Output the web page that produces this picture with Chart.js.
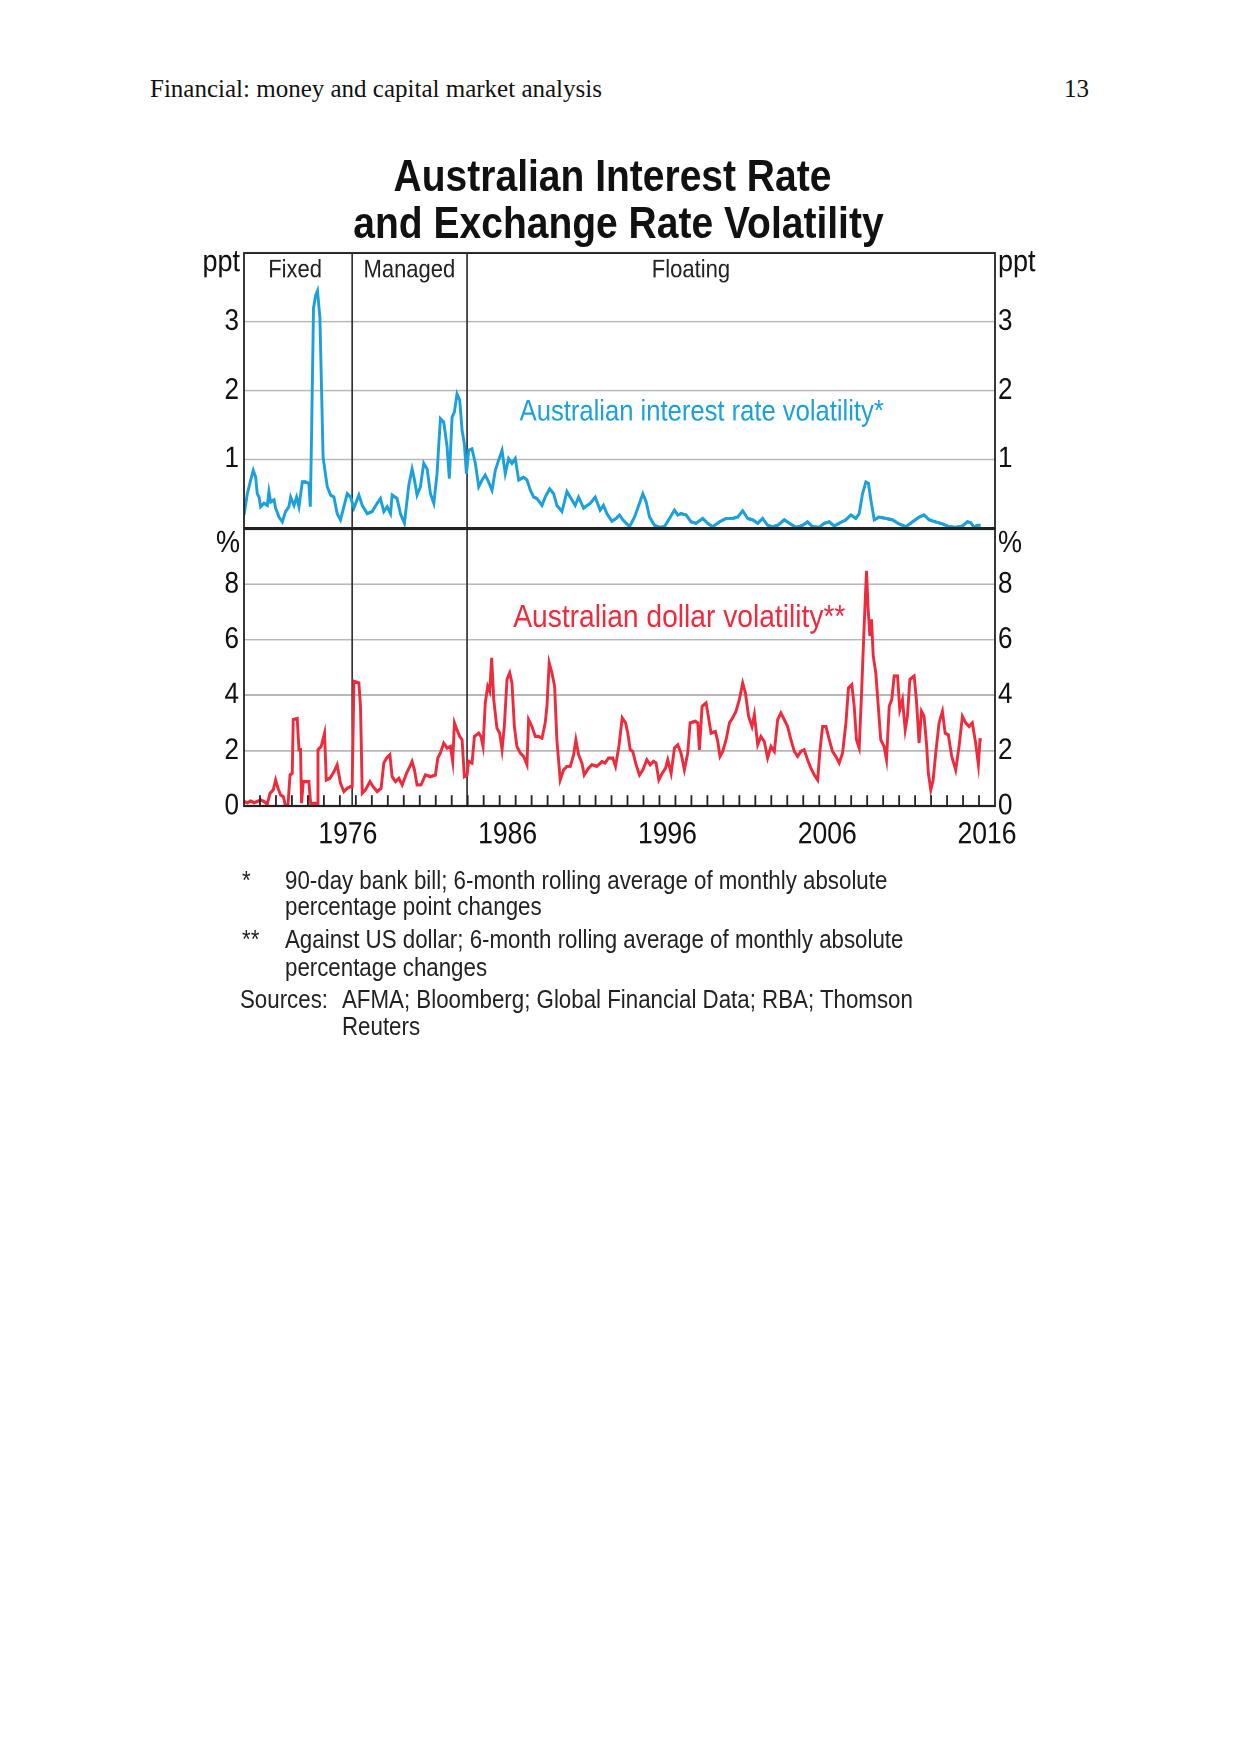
<!DOCTYPE html>
<html>
<head>
<meta charset="utf-8">
<script src="https://cdn.jsdelivr.net/npm/chart.js@4.4.1/dist/chart.umd.min.js"></script>
<style>
  body { margin: 0; background: #fff; }
  #page { position: relative; width: 1241px; height: 1754px; background: #fff; font-family: "Liberation Sans", Arial, sans-serif; }
  .hdr { position: absolute; top: 74px; font-family: "Liberation Serif", "Times New Roman", serif; font-size: 25px; line-height: 30px; color: #111; }
  #fig { position: absolute; left: 0; top: 140px; width: 1241px; height: 800px; transform: scaleY(1.14); transform-origin: 0 0; }
  .title { position: absolute; left: 0; width: 1241px; text-align: center; font-weight: bold; font-size: 39px; line-height: 44px; color: #111; }
  canvas { position: absolute; left: 150px; }
  .note { position: absolute; font-size: 22.3px; line-height: 24px; color: #222; white-space: nowrap; }
</style>
</head>
<body>
<div id="page">
  <div class="hdr" style="left:150px">Financial: money and capital market analysis</div>
  <div class="hdr" style="right:152px">13</div>

  <div id="fig">
    <div class="title" style="top:10px; left:-8px">Australian Interest Rate</div>
    <div class="title" style="top:51px; left:-2px">and Exchange Rate Volatility</div>

    <canvas id="topChart" style="top:70px"></canvas>
    <canvas id="botChart" style="top:310px"></canvas>

    <div class="note" style="left:242px; top:638px">*</div>
    <div class="note" style="left:285px; top:638px">90-day bank bill; 6-month rolling average of monthly absolute</div>
    <div class="note" style="left:285px; top:661px">percentage point changes</div>
    <div class="note" style="left:242px; top:690px">**</div>
    <div class="note" style="left:285px; top:690px">Against US dollar; 6-month rolling average of monthly absolute</div>
    <div class="note" style="left:285px; top:714px">percentage changes</div>
    <div class="note" style="left:240px; top:742px">Sources:</div>
    <div class="note" style="left:342px; top:742px">AFMA; Bloomberg; Global Financial Data; RBA; Thomson</div>
    <div class="note" style="left:342px; top:766px">Reuters</div>
  </div>
</div>

<script>
// 90-day bank bill volatility (ppt)
const irYears = [
  1970.0, 1970.21, 1970.42, 1970.58, 1970.73, 1970.83, 1970.94, 1971.04, 1971.25, 1971.46,
  1971.56, 1971.67, 1971.88, 1971.98, 1972.19, 1972.4, 1972.6, 1972.81, 1972.92, 1973.13,
  1973.29, 1973.44, 1973.65, 1973.85, 1974.06, 1974.15, 1974.23, 1974.35, 1974.48, 1974.6,
  1974.75, 1974.95, 1975.21, 1975.42, 1975.63, 1975.83, 1976.04, 1976.25, 1976.46, 1976.67,
  1976.88, 1977.19, 1977.4, 1977.71, 1978.02, 1978.33, 1978.54, 1978.75, 1978.96, 1979.17,
  1979.27, 1979.58, 1979.79, 1980.04, 1980.31, 1980.52, 1980.67, 1980.83, 1981.04, 1981.25,
  1981.46, 1981.67, 1981.88, 1982.08, 1982.29, 1982.5, 1982.71, 1982.85, 1983.02, 1983.17,
  1983.33, 1983.5, 1983.65, 1983.79, 1983.92, 1984.06, 1984.27, 1984.48, 1984.69, 1984.9,
  1985.1, 1985.31, 1985.52, 1985.73, 1985.94, 1986.15, 1986.35, 1986.56, 1986.77, 1986.98,
  1987.19, 1987.5, 1987.71, 1987.92, 1988.13, 1988.33, 1988.65, 1988.85, 1989.13, 1989.38,
  1989.58, 1989.9, 1990.21, 1990.52, 1990.73, 1990.94, 1991.25, 1991.67, 1991.98, 1992.29,
  1992.5, 1992.71, 1993.02, 1993.29, 1993.5, 1993.71, 1993.92, 1994.13, 1994.44, 1994.75,
  1994.96, 1995.17, 1995.38, 1995.69, 1996.0, 1996.31, 1996.63, 1996.94, 1997.15, 1997.35,
  1997.67, 1997.98, 1998.29, 1998.71, 1999.02, 1999.33, 1999.75, 2000.17, 2000.58, 2000.9,
  2001.21, 2001.52, 2001.83, 2002.15, 2002.46, 2002.77, 2003.08, 2003.4, 2003.81, 2004.13,
  2004.54, 2004.96, 2005.27, 2005.58, 2006.0, 2006.31, 2006.63, 2006.94, 2007.25, 2007.67,
  2007.98, 2008.29, 2008.5, 2008.71, 2008.92, 2009.08, 2009.23, 2009.44, 2009.75, 2010.17,
  2010.58, 2011.0, 2011.42, 2011.83, 2012.25, 2012.56, 2012.88, 2013.29, 2013.71, 2014.13,
  2014.54, 2014.96, 2015.27, 2015.48, 2015.69, 2015.9, 2016.1
];
const irValues = [
  0.19, 0.50, 0.70, 0.84, 0.74, 0.50, 0.45, 0.31, 0.36, 0.33,
  0.53, 0.38, 0.41, 0.29, 0.16, 0.09, 0.24, 0.31, 0.45, 0.33,
  0.45, 0.31, 0.67, 0.67, 0.65, 0.31, 1.37, 3.20, 3.38, 3.45,
  3.06, 1.03, 0.60, 0.48, 0.45, 0.21, 0.12, 0.31, 0.50, 0.45,
  0.29, 0.48, 0.33, 0.21, 0.24, 0.36, 0.43, 0.24, 0.31, 0.21,
  0.48, 0.43, 0.21, 0.07, 0.62, 0.86, 0.70, 0.48, 0.60, 0.94,
  0.86, 0.50, 0.36, 0.79, 1.59, 1.54, 1.18, 0.72, 1.61, 1.69,
  1.95, 1.86, 1.42, 1.23, 0.79, 1.13, 1.15, 0.94, 0.60, 0.70,
  0.77, 0.67, 0.55, 0.84, 0.99, 1.13, 0.79, 1.01, 0.94, 1.01,
  0.70, 0.74, 0.70, 0.55, 0.45, 0.43, 0.33, 0.45, 0.57, 0.50,
  0.33, 0.24, 0.53, 0.41, 0.33, 0.45, 0.29, 0.36, 0.45, 0.26,
  0.33, 0.21, 0.10, 0.14, 0.19, 0.12, 0.07, 0.02, 0.16, 0.36,
  0.50, 0.38, 0.16, 0.04, 0.01, 0.02, 0.14, 0.26, 0.19, 0.21,
  0.19, 0.09, 0.07, 0.14, 0.07, 0.02, 0.09, 0.14, 0.14, 0.16,
  0.25, 0.14, 0.12, 0.07, 0.14, 0.04, 0.02, 0.04, 0.12, 0.07,
  0.01, 0.04, 0.09, 0.02, 0.01, 0.07, 0.09, 0.03, 0.07, 0.12,
  0.19, 0.14, 0.21, 0.50, 0.67, 0.65, 0.41, 0.12, 0.16, 0.14,
  0.12, 0.06, 0.02, 0.09, 0.16, 0.19, 0.12, 0.09, 0.06, 0.02,
  0.01, 0.03, 0.09, 0.08, 0.01, 0.04, 0.04
];

// AUD against USD volatility (%)
const audYears = [
  1970.0, 1970.21, 1970.42, 1970.63, 1970.83, 1971.04, 1971.25, 1971.46, 1971.63, 1971.83,
  1971.98, 1972.13, 1972.29, 1972.46, 1972.6, 1972.75, 1972.88, 1973.02, 1973.08, 1973.33,
  1973.44, 1973.54, 1973.6, 1973.71, 1974.06, 1974.17, 1974.58, 1974.63, 1974.83, 1975.04,
  1975.15, 1975.38, 1975.63, 1975.83, 1976.04, 1976.25, 1976.46, 1976.67, 1976.77, 1976.88,
  1977.19, 1977.29, 1977.4, 1977.6, 1977.88, 1978.08, 1978.33, 1978.58, 1978.75, 1978.92,
  1979.13, 1979.27, 1979.48, 1979.69, 1979.9, 1980.17, 1980.38, 1980.52, 1980.67, 1980.83,
  1981.08, 1981.35, 1981.67, 1981.98, 1982.13, 1982.29, 1982.5, 1982.71, 1982.92, 1983.06,
  1983.17, 1983.33, 1983.5, 1983.65, 1983.79, 1983.96, 1984.06, 1984.27, 1984.42, 1984.69,
  1984.83, 1984.96, 1985.1, 1985.25, 1985.38, 1985.5, 1985.63, 1985.83, 1986.0, 1986.15,
  1986.29, 1986.46, 1986.63, 1986.77, 1986.92, 1987.08, 1987.29, 1987.5, 1987.71, 1987.81,
  1988.02, 1988.23, 1988.44, 1988.65, 1988.85, 1988.96, 1989.1, 1989.27, 1989.44, 1989.58,
  1989.79, 1990.0, 1990.21, 1990.42, 1990.63, 1990.77, 1990.94, 1991.15, 1991.29, 1991.56,
  1991.77, 1992.08, 1992.4, 1992.6, 1992.81, 1993.08, 1993.25, 1993.46, 1993.67, 1993.88,
  1994.02, 1994.17, 1994.33, 1994.54, 1994.75, 1994.96, 1995.21, 1995.42, 1995.63, 1995.79,
  1995.96, 1996.17, 1996.38, 1996.52, 1996.73, 1996.94, 1997.15, 1997.35, 1997.56, 1997.77,
  1997.92, 1998.25, 1998.4, 1998.5, 1998.67, 1998.92, 1999.06, 1999.23, 1999.5, 1999.65,
  1999.79, 1999.96, 2000.17, 2000.38, 2000.58, 2000.79, 2001.0, 2001.21, 2001.38, 2001.58,
  2001.79, 2001.94, 2002.15, 2002.35, 2002.56, 2002.77, 2002.98, 2003.19, 2003.4, 2003.6,
  2003.81, 2004.02, 2004.23, 2004.44, 2004.65, 2004.85, 2005.06, 2005.27, 2005.48, 2005.69,
  2005.9, 2006.04, 2006.21, 2006.42, 2006.63, 2006.83, 2007.04, 2007.25, 2007.46, 2007.67,
  2007.83, 2008.04, 2008.19, 2008.33, 2008.5, 2008.65, 2008.77, 2008.88, 2008.96, 2009.06,
  2009.17, 2009.27, 2009.38, 2009.54, 2009.71, 2009.85, 2010.06, 2010.21, 2010.38, 2010.54,
  2010.69, 2010.9, 2011.04, 2011.21, 2011.38, 2011.52, 2011.67, 2011.94, 2012.08, 2012.25,
  2012.4, 2012.56, 2012.71, 2012.83, 2012.98, 2013.13, 2013.29, 2013.5, 2013.71, 2013.88,
  2014.08, 2014.29, 2014.54, 2014.75, 2014.96, 2015.17, 2015.38, 2015.58, 2015.79, 2015.96,
  2016.06, 2016.17
];
const audValues = [
  0.16, 0.12, 0.18, 0.12, 0.16, 0.22, 0.16, 0.07, 0.46, 0.58,
  0.94, 0.64, 0.40, 0.34, 0.00, 0.00, 1.12, 1.18, 3.12, 3.16,
  2.03, 2.03, 0.10, 0.88, 0.88, 0.10, 0.10, 2.03, 2.15, 2.63,
  0.94, 1.00, 1.24, 1.49, 0.82, 0.52, 0.64, 0.70, 0.70, 4.50,
  4.44, 3.60, 0.46, 0.58, 0.88, 0.70, 0.52, 0.64, 1.55, 1.73,
  1.85, 1.06, 0.88, 1.00, 0.76, 1.18, 1.43, 1.61, 1.30, 0.76,
  0.76, 1.12, 1.06, 1.12, 1.73, 1.91, 2.27, 2.09, 2.15, 1.61,
  3.00, 2.75, 2.51, 2.39, 1.06, 1.12, 1.61, 1.55, 2.51, 2.63,
  2.51, 2.15, 3.72, 4.32, 4.14, 5.35, 3.84, 2.81, 2.63, 2.03,
  2.87, 4.57, 4.81, 4.44, 2.87, 2.15, 1.91, 1.79, 1.49, 3.12,
  2.87, 2.51, 2.51, 2.45, 3.00, 3.60, 5.17, 4.81, 4.32, 2.39,
  0.94, 1.30, 1.43, 1.43, 1.85, 2.39, 1.85, 1.55, 1.12, 1.36,
  1.49, 1.43, 1.60, 1.55, 1.73, 1.73, 1.43, 2.15, 3.18, 3.00,
  2.63, 2.03, 1.97, 1.49, 1.12, 1.30, 1.67, 1.49, 1.61, 1.55,
  0.94, 1.18, 1.36, 1.67, 1.18, 2.09, 2.21, 1.91, 1.30, 1.91,
  3.00, 3.06, 3.00, 2.03, 3.60, 3.72, 3.24, 2.63, 2.69, 2.33,
  1.79, 1.97, 2.39, 3.00, 3.18, 3.42, 3.84, 4.44, 4.08, 3.24,
  2.87, 3.30, 2.21, 2.51, 2.33, 1.73, 2.15, 1.97, 3.12, 3.36,
  3.12, 2.87, 2.39, 1.97, 1.79, 1.97, 2.03, 1.67, 1.36, 1.12,
  0.94, 1.97, 2.87, 2.87, 2.39, 1.97, 1.79, 1.55, 1.91, 3.00,
  4.26, 4.38, 3.60, 2.39, 2.09, 4.08, 5.89, 7.46, 8.49, 7.10,
  6.14, 6.74, 5.41, 4.81, 3.48, 2.39, 2.15, 1.67, 3.60, 3.84,
  4.69, 4.69, 3.48, 3.84, 2.75, 3.24, 4.57, 4.69, 3.84, 2.27,
  3.42, 3.24, 2.27, 1.18, 0.58, 0.94, 1.91, 3.00, 3.42, 2.63,
  2.57, 1.79, 1.30, 2.15, 3.24, 3.00, 2.87, 3.00, 2.27, 1.49,
  2.39, 2.39
];

const yearLabels = [1976, 1986, 1996, 2006, 2016];
const regimeBreaks = [1976.77, 1983.96];
const regimeNames = ['Fixed', 'Managed', 'Floating'];
const regimeNameYears = [1973.2, 1980.35, 1997.97];
const topTicks = [1, 2, 3];
const botTicks = [0, 2, 4, 6, 8];

const FONT = '"Liberation Sans", Arial, sans-serif';
const BLUE = '#1ba0db';
const RED = '#ee2b3c';

const decor = {
  id: 'decor',
  beforeDatasetsDraw(chart, args, o) {
    const { ctx, chartArea: a, scales } = chart;
    ctx.save();
    ctx.strokeStyle = '#333';
    ctx.lineWidth = 1.7;
    regimeBreaks.forEach(b => {
      const px = scales.x.getPixelForValue(b);
      ctx.beginPath();
      ctx.moveTo(px, a.top);
      ctx.lineTo(px, a.bottom);
      ctx.stroke();
    });
    ctx.restore();
  },
  afterDatasetsDraw(chart, args, o) {
    const { ctx, chartArea: a, scales } = chart;
    ctx.save();
    // frame
    ctx.strokeStyle = '#222';
    ctx.lineWidth = 1.8;
    ctx.strokeRect(a.left, a.top, a.right - a.left, a.bottom - a.top);

    // inward yearly ticks
    if (o.yearTicks) {
      ctx.lineWidth = 1.8;
      for (let yr = 1971; yr <= 2016; yr++) {
        const px = scales.x.getPixelForValue(yr);
        ctx.beginPath();
        ctx.moveTo(px, a.bottom);
        ctx.lineTo(px, a.bottom - 9.5);
        ctx.stroke();
      }
    }

    // units
    ctx.fillStyle = '#111';
    ctx.font = '27px ' + FONT;
    ctx.textBaseline = 'alphabetic';
    ctx.textAlign = 'right';
    ctx.fillText(o.unit, a.left - 4, a.top + o.unitDy);
    ctx.textAlign = 'left';
    ctx.fillText(o.unit, a.right + 3, a.top + o.unitDy);

    // regime names
    if (o.regimes) {
      ctx.font = '22px ' + FONT;
      ctx.textAlign = 'center';
      ctx.textBaseline = 'middle';
      ctx.fillStyle = '#222';
      regimeNames.forEach((n, i) => {
        ctx.fillText(n, scales.x.getPixelForValue(regimeNameYears[i]), a.top + 15.5);
      });
    }

    // series label
    const l = o.label;
    ctx.font = l.size + 'px ' + FONT;
    ctx.fillStyle = l.color;
    ctx.textAlign = 'left';
    ctx.textBaseline = 'middle';
    ctx.fillText(l.text, scales.x.getPixelForValue(l.x), scales.y.getPixelForValue(l.y));
    ctx.restore();
  }
};

function yAxes(min, max, ticks) {
  const tickFont = { family: FONT, size: 26 };
  return {
    y: {
      position: 'left', min, max,
      afterBuildTicks: s => { s.ticks = ticks.map(v => ({ value: v })); },
      ticks: { font: tickFont, color: '#111', padding: 5 },
      grid: { color: '#b8b8b8', lineWidth: 1.5, drawTicks: false },
      border: { display: false },
      afterFit: s => { s.width = 94; }
    },
    y2: {
      position: 'right', min, max,
      afterBuildTicks: s => { s.ticks = ticks.map(v => ({ value: v })); },
      ticks: { font: tickFont, color: '#111', padding: 3 },
      grid: { display: false, drawTicks: false },
      border: { display: false },
      afterFit: s => { s.width = 65; }
    }
  };
}

function makeCanvas(id, h) {
  const c = document.getElementById(id);
  c.width = 910;
  c.height = h;
  return c;
}

new Chart(makeCanvas('topChart', 300), {
  type: 'line',
  data: {
    datasets: [{
      data: irYears.map((x, i) => ({ x, y: irValues[i] })),
      borderColor: BLUE,
      borderWidth: 2.9,
      pointRadius: 0,
      tension: 0
    }]
  },
  options: {
    responsive: false,
    animation: false,
    devicePixelRatio: 2,
    layout: { padding: { top: 29.1, bottom: 29.6, left: 0, right: 0 } },
    plugins: {
      legend: { display: false },
      tooltip: { enabled: false },
      decor: {
        unit: 'ppt', unitDy: 16, regimes: true, yearTicks: false,
        label: { text: 'Australian interest rate volatility*', x: 1987.25, y: 1.68, color: BLUE, size: 25.6 }
      }
    },
    scales: Object.assign({
      x: { type: 'linear', min: 1970, max: 2017, display: false }
    }, yAxes(0, 4, topTicks))
  },
  plugins: [decor]
});

new Chart(makeCanvas('botChart', 330), {
  type: 'line',
  data: {
    datasets: [{
      data: audYears.map((x, i) => ({ x, y: audValues[i] })),
      borderColor: RED,
      borderWidth: 2.9,
      pointRadius: 0,
      tension: 0
    }]
  },
  options: {
    responsive: false,
    animation: false,
    devicePixelRatio: 2,
    layout: { padding: { top: 31.2, bottom: 0, left: 0, right: 0 } },
    plugins: {
      legend: { display: false },
      tooltip: { enabled: false },
      decor: {
        unit: '%', unitDy: 20.5, regimes: false, yearTicks: true,
        label: { text: 'Australian dollar volatility**', x: 1986.85, y: 6.78, color: RED, size: 28.2 }
      }
    },
    scales: Object.assign({
      x: {
        type: 'linear', min: 1970, max: 2017,
        afterBuildTicks: s => { s.ticks = yearLabels.map(v => ({ value: v + 0.5 })); },
        ticks: { callback: v => String(Math.floor(v)), font: { family: FONT, size: 26.5 }, color: '#111', padding: 9.5, maxRotation: 0, autoSkip: false },
        grid: { display: false, drawTicks: false },
        border: { display: false },
        afterFit: s => { s.height = 55.8; }
      }
    }, yAxes(0, 10, botTicks))
  },
  plugins: [decor]
});
</script>
</body>
</html>
